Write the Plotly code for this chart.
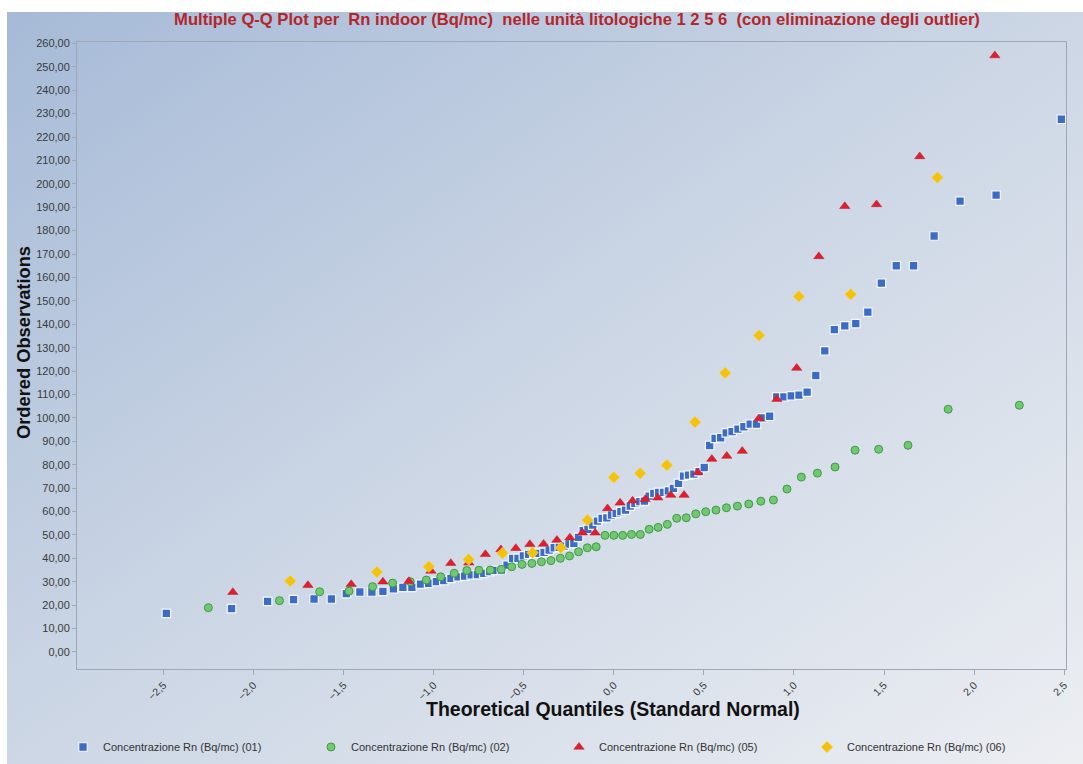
import base64
import plotly.graph_objects as go

# Theoretical normal quantiles (x) and ordered observations of Rn indoor (Bq/mc), unit 01
q01 = [-2.484, -2.122, -1.922, -1.778, -1.664, -1.568, -1.485, -1.410, -1.343, -1.282,
       -1.224, -1.171, -1.121, -1.073, -1.028, -0.985, -0.944, -0.904, -0.865, -0.828,
       -0.792, -0.757, -0.722, -0.689, -0.656, -0.624, -0.593, -0.562, -0.532, -0.502,
       -0.473, -0.444, -0.415, -0.387, -0.359, -0.331, -0.303, -0.276, -0.249, -0.222,
       -0.196, -0.170, -0.144, -0.117, -0.091, -0.065, -0.039, -0.013,
       0.013, 0.039, 0.065, 0.091, 0.117, 0.144, 0.170, 0.196, 0.222, 0.249,
       0.276, 0.303, 0.331, 0.359, 0.387, 0.415, 0.444, 0.473, 0.502, 0.532,
       0.562, 0.593, 0.624, 0.656, 0.689, 0.722, 0.757, 0.792, 0.828, 0.865,
       0.904, 0.944, 0.985, 1.028, 1.073, 1.121, 1.171, 1.224, 1.282, 1.343,
       1.410, 1.485, 1.568, 1.664, 1.778, 1.922, 2.122, 2.484]
rn01 = [16.5, 18.5, 21.6, 22.3, 22.6, 22.6, 24.9, 25.6, 25.6, 25.9,
        26.9, 27.6, 27.6, 29.0, 29.3, 30.0, 30.5, 31.4, 32.1, 32.4,
        32.9, 33.0, 33.6, 34.3, 34.8, 35.0, 37.1, 40.0, 40.0, 41.0,
        41.7, 42.1, 42.1, 42.5, 43.5, 44.5, 44.7, 45.2, 46.1, 46.4,
        48.9, 51.8, 52.4, 54.2, 55.9, 57.1, 57.3, 58.5,
        59.2, 59.9, 60.6, 62.3, 63.5, 64.2, 64.4, 66.6, 67.7, 68.2,
        68.2, 68.8, 69.9, 72.0, 75.1, 75.5, 76.0, 77.0, 78.8, 88.2,
        91.2, 91.5, 93.6, 94.1, 95.2, 96.2, 97.3, 97.3, 100.0, 100.7,
        109.0, 109.0, 109.4, 109.7, 111.0, 118.1, 128.6, 137.7, 139.3, 140.3,
        145.2, 157.6, 165.0, 165.0, 177.7, 192.6, 195.2, 227.6]

# Unit 02
q02 = [-2.251, -1.856, -1.633, -1.470, -1.339, -1.228, -1.130, -1.041, -0.961, -0.886,
       -0.816, -0.749, -0.686, -0.625, -0.567, -0.510, -0.455, -0.402, -0.349, -0.297,
       -0.246, -0.196, -0.147, -0.098, -0.049, 0.0,
       0.049, 0.098, 0.147, 0.196, 0.246, 0.297, 0.349, 0.402, 0.455, 0.510,
       0.567, 0.625, 0.686, 0.749, 0.816, 0.886, 0.961, 1.041, 1.130, 1.228,
       1.339, 1.470, 1.633, 1.856, 2.251]
rn02 = [18.9, 21.9, 25.7, 26.0, 27.9, 29.4, 30.0, 30.7, 32.1, 33.6,
        34.8, 34.9, 35.0, 35.3, 36.4, 37.4, 37.8, 38.5, 39.0, 40.0,
        41.0, 42.8, 44.5, 44.9, 49.8, 49.8,
        49.8, 50.2, 50.2, 52.4, 53.2, 54.5, 57.1, 57.3, 59.0, 59.9,
        60.6, 61.6, 62.3, 63.2, 64.4, 64.9, 69.6, 74.7, 76.4, 79.0,
        86.2, 86.6, 88.3, 103.7, 105.4]

# Unit 05
q05 = [-2.115, -1.698, -1.458, -1.282, -1.138, -1.015, -0.905, -0.805, -0.713, -0.627,
       -0.544, -0.466, -0.390, -0.316, -0.244, -0.174, -0.104, -0.035,
       0.035, 0.104, 0.174, 0.244, 0.316, 0.390, 0.466, 0.544, 0.627, 0.713,
       0.805, 0.905, 1.015, 1.138, 1.282, 1.458, 1.698, 2.115]
rn05 = [25.5, 28.5, 28.9, 30.0, 30.2, 34.6, 37.9, 38.1, 41.7, 43.8,
        44.3, 46.0, 46.1, 47.8, 48.8, 50.9, 50.9, 61.3,
        63.7, 64.6, 65.2, 65.9, 67.0, 67.0, 76.7, 82.4, 83.7, 85.8,
        99.7, 108.0, 121.3, 169.0, 190.4, 191.2, 211.7, 254.8]

# Unit 06
q06 = [-1.796, -1.315, -1.027, -0.806, -0.618, -0.451, -0.294, -0.146, 0.0,
       0.146, 0.294, 0.451, 0.618, 0.806, 1.027, 1.315, 1.796]
rn06 = [30.3, 34.1, 36.4, 39.5, 42.2, 42.4, 44.5, 56.3, 74.6,
        76.3, 79.8, 98.2, 119.2, 135.2, 151.9, 152.8, 202.7]

series_names = ["Concentrazione Rn (Bq/mc) (01)", "Concentrazione Rn (Bq/mc) (02)",
                "Concentrazione Rn (Bq/mc) (05)", "Concentrazione Rn (Bq/mc) (06)"]

W, H = 1083, 764
L, R, T, B = 77, 17, 42, 95
pw, ph = W - L - R, H - T - B

# Soft diagonal backdrop for the whole chart panel
svg = (
    '<svg xmlns="http://www.w3.org/2000/svg" width="1000" height="1000" '
    'preserveAspectRatio="none" viewBox="0 0 1000 1000">'
    '<defs><linearGradient id="g" x1="0" y1="0" x2="1" y2="1">'
    '<stop offset="0" stop-color="#a6bad7"/>'
    '<stop offset="0.45" stop-color="#c9d4e4"/>'
    '<stop offset="1" stop-color="#eceef2"/>'
    '</linearGradient></defs>'
    '<rect x="0" y="0" width="1000" height="1000" fill="url(#g)"/>'
    '</svg>'
)
bg_uri = "data:image/svg+xml;base64," + base64.b64encode(svg.encode()).decode()

fig = go.Figure()

fig.add_trace(go.Scatter(
    x=q01, y=rn01, mode="markers", name=series_names[0],
    marker=dict(symbol="square", size=8.5, color="#3d6cc6",
                line=dict(color="#f4f7fc", width=1.2)),
))
fig.add_trace(go.Scatter(
    x=q02, y=rn02, mode="markers", name=series_names[1],
    marker=dict(symbol="circle", size=8, color="#72c872",
                line=dict(color="#3f9b43", width=1)),
))
fig.add_trace(go.Scatter(
    x=q05, y=rn05, mode="markers", name=series_names[2],
    marker=dict(symbol="triangle-up", size=9, color="#dd1f2f",
                line=dict(color="#c0182a", width=0.5)),
))
fig.add_trace(go.Scatter(
    x=q06, y=rn06, mode="markers", name=series_names[3],
    marker=dict(symbol="diamond", size=9, color="#f4c20d",
                line=dict(color="#f8d860", width=0.5)),
))

axis_font = dict(family="Liberation Sans, Arial, sans-serif", size=11, color="#3a3a3a")
title_font = dict(family="Liberation Sans, Arial, sans-serif", color="#111111")

fig.update_layout(
    width=W, height=H,
    margin=dict(l=L, r=R, t=T, b=B, pad=0, autoexpand=False),
    paper_bgcolor="white",
    plot_bgcolor="rgba(0,0,0,0)",
    separators=",.",
    showlegend=True,
    title=dict(
        text="Multiple Q-Q Plot per  Rn indoor (Bq/mc)  nelle unità litologiche 1 2 5 6  (con eliminazione degli outlier)",
        x=577 / W, xanchor="center", xref="container",
        y=1 - 19 / H, yanchor="middle", yref="container",
        font=dict(family="Liberation Sans Narrow, Arial Narrow, Liberation Sans, sans-serif",
                  size=16.6, color="#b3262b", weight="bold"),
    ),
    xaxis=dict(
        range=[-2.98, 2.51], tick0=0, dtick=0.5, tickformat=".1f",
        tickangle=-45, ticks="outside", ticklen=5, tickcolor="#a0a8b4",
        showgrid=False, zeroline=False, automargin=False,
        showline=True, linecolor="#9ea7b3", linewidth=1, mirror=True,
        tickfont=dict(family="Liberation Sans, Arial, sans-serif", size=10.5, color="#3a3a3a"),
    ),
    yaxis=dict(
        range=[-7.3, 260.6], tick0=0, dtick=10, tickformat=".2f",
        ticks="outside", ticklen=4, tickcolor="#a0a8b4",
        showgrid=False, zeroline=False, automargin=False,
        showline=True, linecolor="#9ea7b3", linewidth=1, mirror=True,
        tickfont=axis_font,
    ),
    legend=dict(
        orientation="h", xref="container", yref="container",
        x=63 / W, xanchor="left", y=1 - 747 / H, yanchor="middle",
        entrywidth=203, entrywidthmode="pixels", bgcolor="rgba(0,0,0,0)",
        font=dict(family="Liberation Sans Narrow, Liberation Sans, Arial, sans-serif",
                  size=11, color="#333333"),
        itemclick=False,
    ),
    annotations=[
        dict(text="<b>Theoretical Quantiles (Standard Normal)</b>",
             xref="paper", yref="paper", x=(613 - L) / pw, y=(H - B - 709) / ph,
             xanchor="center", yanchor="middle", showarrow=False,
             font=dict(size=19.5, **title_font)),
        dict(text="<b>Ordered Observations</b>",
             xref="paper", yref="paper", x=(23 - L) / pw, y=(H - B - 343) / ph,
             xanchor="center", yanchor="middle", showarrow=False, textangle=-90,
             font=dict(size=18.3, **title_font)),
    ],
    images=[dict(
        source=bg_uri, xref="paper", yref="paper",
        x=(7 - L) / pw, y=(H - B - 12) / ph,
        sizex=(W - 7) / pw, sizey=(H - 12) / ph,
        xanchor="left", yanchor="top", sizing="stretch", layer="below",
    )],
)

fig.write_html("out.html")
